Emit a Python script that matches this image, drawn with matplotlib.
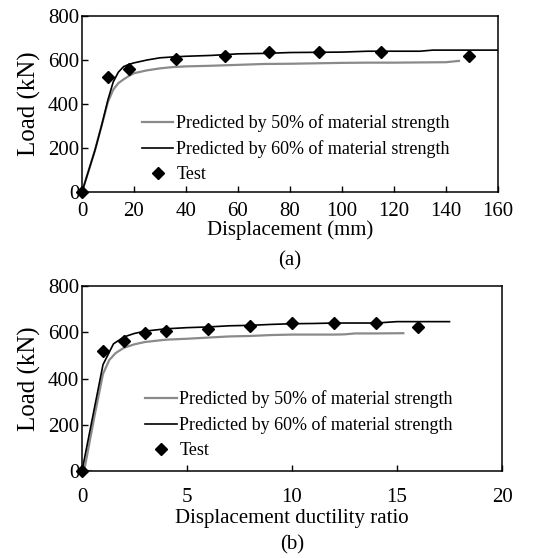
import matplotlib
matplotlib.use("Agg")
import matplotlib.pyplot as plt

plt.rcParams['font.family'] = ['Liberation Serif', 'DejaVu Serif']

# Panel (a): load vs displacement (mm)
a_p50_x = [0, 2.5, 5, 7.5, 10, 12, 14, 16, 18, 20, 25, 30, 35, 40, 50, 60, 70, 80, 90, 100, 110, 120, 130, 140, 145]
a_p50_y = [0, 95, 190, 300, 410, 465, 495, 512, 527, 540, 553, 562, 568, 571, 574, 578, 582, 583, 585, 587, 588, 588, 589, 590, 596]
a_p60_x = [0, 2.5, 5, 7.5, 10, 12, 14, 16, 18, 20, 25, 30, 35, 40, 50, 60, 70, 80, 90, 100, 110, 120, 130, 135, 160]
a_p60_y = [0, 95, 190, 300, 420, 500, 545, 570, 580, 587, 600, 610, 614, 617, 621, 628, 630, 634, 635, 636, 640, 640, 640, 645, 645]
a_test_x = [0, 10, 18, 36, 55, 72, 91, 115, 149]
a_test_y = [0, 521, 561, 604, 619, 637, 637, 638, 620]

# Panel (b): load vs displacement ductility ratio
b_p50_x = [0.4, 0, 0.1, 0.6, 1.0, 1.3, 1.6, 2.0, 2.5, 3.0, 4.0, 5.0, 6.0, 7.0, 8.0, 9.0, 10.0, 11.0, 12.0, 12.5, 13.0, 14.0, 15.3]
b_p50_y = [0, 0, 0, 240, 420, 480, 510, 533, 548, 558, 568, 572, 577, 582, 584, 588, 590, 590, 590, 591, 595, 595, 596]
b_p60_x = [0, 0.5, 1.0, 1.5, 2.0, 2.5, 3.0, 4.0, 5.0, 6.0, 7.0, 8.0, 9.0, 10.0, 11.0, 12.0, 13.0, 14.0, 15.0, 17.5]
b_p60_y = [0, 230, 460, 550, 580, 595, 605, 615, 620, 623, 628, 630, 634, 637, 638, 640, 640, 640, 646, 646]
b_test_x = [0, 1, 2, 3, 4, 6, 8, 10, 12, 14, 16]
b_test_y = [0, 518, 561, 599, 607, 613, 627, 640, 640, 640, 622]

y_ticks = [0, 200, 400, 600, 800]
a_x_ticks = [0, 20, 40, 60, 80, 100, 120, 140, 160]
b_x_ticks = [0, 5, 10, 15, 20]

labels = ["Predicted by 50% of material strength",
          "Predicted by 60% of material strength",
          "Test"]

fig = plt.figure(figsize=(5.38, 5.58), dpi=100)
ax1 = fig.add_axes([0.1524, 0.6559, 0.7732, 0.3154])
ax2 = fig.add_axes([0.1524, 0.1559, 0.7807, 0.3315])

def draw(ax, p50x, p50y, p60x, p60y, tx, ty, xlim, xticks, xlabel, panel, leg_anchor, panel_y, xpad, xlabelpad):
    ax.plot(p50x, p50y, color='#8a8a8a', lw=1.6, label=labels[0])
    ax.plot(p60x, p60y, color='black', lw=1.2, label=labels[1])
    ax.plot(tx, ty, linestyle='none', marker='D', color='black', markersize=6, label=labels[2], clip_on=False, zorder=5)
    ax.set_xlim(*xlim)
    ax.set_ylim(0, 800)
    ax.set_xticks(xticks)
    ax.set_yticks(y_ticks)
    ax.tick_params(direction='in', length=4, width=1, labelsize=15)
    ax.tick_params(axis='x', pad=xpad)
    ax.tick_params(axis='y', pad=2)
    for s in ax.spines.values():
        s.set_linewidth(1.1)
    ax.set_xlabel(xlabel, fontsize=15, labelpad=xlabelpad)
    ax.set_ylabel("Load (kN)", fontsize=18, labelpad=5)
    ax.text(0.5, panel_y, panel, transform=ax.transAxes, ha='center', va='center', fontsize=15)
    ax.legend(loc='center left', bbox_to_anchor=leg_anchor, frameon=False, fontsize=13,
              handlelength=1.75, handletextpad=0.15, labelspacing=0.45, borderaxespad=0, borderpad=0)

draw(ax1, a_p50_x, a_p50_y, a_p60_x, a_p60_y, a_test_x, a_test_y, (0, 160), a_x_ticks,
     "Displacement (mm)", "(a)", (0.144, 0.245), -0.39, 7, 0)
draw(ax2, b_p50_x, b_p50_y, b_p60_x, b_p60_y, b_test_x, b_test_y, (0, 20), b_x_ticks,
     "Displacement ductility ratio", "(b)", (0.15, 0.25), -0.4, 12, 2)

fig.savefig("out.png", dpi=100)
